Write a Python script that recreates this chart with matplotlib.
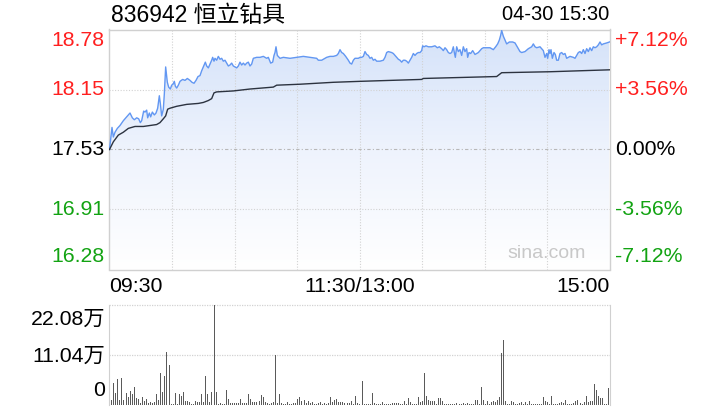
import numpy as np
import matplotlib.pyplot as plt
import matplotlib.transforms as mtransforms
from matplotlib.patches import Polygon
from matplotlib.colors import LinearSegmentedColormap

plt.rcParams['font.family'] = ['Liberation Sans', 'Noto Sans CJK SC', 'DejaVu Sans']

# stock info
title = '836942 恒立钻具'
stamp = '04-30 15:30'
prev_close = 17.53
price_ticks = [16.28, 16.91, 17.53, 18.15, 18.78]
pct_labels = ['-7.12%', '-3.56%', '0.00%', '+3.56%', '+7.12%']
time_labels = ['09:30', '11:30/13:00', '15:00']
vol_ticks = [0, 11.04, 22.08]
vol_labels = ['0', '11.04万', '22.08万']

# minute price (minutes since 09:30, trading time only)
price_t = [0, 1.2, 1.84, 2.64, 3.76, 5.04, 6.64, 8.24, 9.84, 10.96, 11.92, 13.04, 14.0, 14.8, 15.44,
           16.4, 17.04, 17.84, 18.32, 19.12, 19.76, 20.56, 21.52, 22.32, 23.12, 23.92, 24.4, 25.04,
           25.84, 26.32, 26.96, 27.76, 28.4, 29.2, 29.84, 30.48, 31.12, 31.6, 32.24, 33.04, 33.84,
           35.12, 36.24, 37.36, 38.64, 39.6, 40.56, 41.52, 42.48, 43.44, 44.24, 45.04, 46.0, 46.64,
           47.44, 48.24, 49.04, 49.52, 50.16, 50.64, 51.44, 52.24, 53.04, 53.84, 54.64, 55.44, 56.24,
           57.04, 57.84, 58.64, 59.44, 60.24, 61.04, 61.84, 62.64, 63.44, 64.24, 65.04, 65.84, 66.64,
           67.44, 68.24, 69.04, 70.64, 72.24, 73.84, 75.44, 76.24, 77.36, 78.32, 78.96, 79.44, 79.92,
           80.56, 81.84, 83.44, 86.64, 89.84, 93.04, 96.24, 99.44, 100.24, 101.04, 101.84, 102.64,
           104.24, 105.84, 107.44, 109.04, 109.84, 110.64, 111.44, 112.24, 113.36, 114.64, 115.44,
           116.24, 117.04, 117.84, 119.44, 120.24,
           121.04, 121.84, 122.64, 123.44, 124.24, 125.04, 125.84, 126.64, 127.44, 128.24, 129.84,
           131.44, 132.24, 133.04, 133.84, 135.44, 136.24, 137.04, 137.84, 138.64, 139.44, 140.24,
           141.04, 141.84, 142.64, 143.44, 144.24, 145.04, 145.84, 146.64, 147.44, 148.24, 149.04,
           149.84, 150.32, 150.96, 151.92, 153.04, 154.64, 156.24, 157.36, 158.32, 159.44, 160.24,
           161.04, 161.84, 162.64, 163.44, 164.24, 165.04, 165.52, 166.0, 166.64, 167.44, 168.24,
           169.04, 169.84, 170.64, 171.44, 171.92, 172.56, 173.36, 174.32, 175.44, 176.24, 177.04,
           177.84, 178.64, 179.44, 181.04, 182.64, 184.24, 185.36, 186.32, 187.12, 187.76, 188.24,
           189.04, 189.84, 190.64, 191.92, 193.52, 194.64, 195.44, 196.24, 197.04, 197.84, 199.44,
           201.04, 201.84, 202.64, 203.44, 204.24, 205.04, 206.64, 207.44, 208.24, 209.04, 209.84,
           210.32, 210.96, 211.44, 211.92, 212.56, 213.36, 214.0, 214.64, 215.44, 216.24, 217.04,
           217.84, 218.64, 219.44, 220.24, 221.04, 222.64, 223.44, 224.24, 225.04, 225.84, 226.64,
           227.44, 228.24, 229.04, 229.84, 230.64, 231.44, 232.24, 233.04, 233.84, 234.64, 235.44,
           236.24, 237.04, 238.64, 240]
price_v = [17.53, 17.76, 17.66, 17.71, 17.75, 17.78, 17.83, 17.87, 17.91, 17.86, 17.84, 17.86, 17.85,
           17.81, 17.83, 17.93, 17.92, 17.94, 17.86, 17.91, 17.87, 17.92, 17.89, 17.91, 17.96, 18.09,
           18.01, 17.88, 17.95, 18.11, 18.39, 18.23, 18.18, 18.16, 18.20, 18.21, 18.24, 18.19, 18.17,
           18.20, 18.24, 18.26, 18.25, 18.27, 18.25, 18.23, 18.22, 18.25, 18.29, 18.30, 18.35, 18.39,
           18.44, 18.40, 18.38, 18.42, 18.46, 18.49, 18.45, 18.48, 18.46, 18.50, 18.47, 18.48, 18.45,
           18.46, 18.43, 18.40, 18.41, 18.43, 18.40, 18.39, 18.38, 18.40, 18.44, 18.41, 18.43, 18.41,
           18.43, 18.44, 18.40, 18.42, 18.48, 18.49, 18.49, 18.50, 18.48, 18.49, 18.43, 18.44, 18.51,
           18.54, 18.60, 18.51, 18.48, 18.49, 18.48, 18.49, 18.50, 18.49, 18.48, 18.46, 18.46, 18.46,
           18.47, 18.49, 18.50, 18.50, 18.51, 18.53, 18.57, 18.54, 18.53, 18.50, 18.46, 18.43, 18.42,
           18.46, 18.48, 18.48, 18.49,
           18.49, 18.50, 18.55, 18.52, 18.51, 18.48, 18.49, 18.46, 18.47, 18.45, 18.45, 18.46, 18.49,
           18.54, 18.55, 18.54, 18.53, 18.51, 18.49, 18.47, 18.46, 18.44, 18.46, 18.46, 18.45, 18.43,
           18.46, 18.49, 18.53, 18.51, 18.53, 18.54, 18.54, 18.56, 18.61, 18.60, 18.61, 18.60, 18.60,
           18.61, 18.59, 18.60, 18.58, 18.56, 18.59, 18.57, 18.54, 18.53, 18.54, 18.60, 18.54, 18.49,
           18.60, 18.55, 18.57, 18.51, 18.60, 18.55, 18.58, 18.49, 18.54, 18.53, 18.56, 18.52, 18.53,
           18.54, 18.56, 18.58, 18.59, 18.59, 18.59, 18.57, 18.60, 18.63, 18.67, 18.72, 18.77, 18.71,
           18.67, 18.63, 18.65, 18.65, 18.64, 18.61, 18.58, 18.55, 18.54, 18.55, 18.58, 18.59, 18.60,
           18.63, 18.60, 18.59, 18.60, 18.58, 18.56, 18.49, 18.53, 18.48, 18.57, 18.53, 18.57, 18.48,
           18.54, 18.52, 18.46, 18.46, 18.53, 18.54, 18.52, 18.53, 18.48, 18.49, 18.50, 18.49, 18.48,
           18.51, 18.54, 18.55, 18.53, 18.57, 18.53, 18.58, 18.55, 18.59, 18.56, 18.60, 18.59, 18.60,
           18.62, 18.65, 18.62, 18.63, 18.64, 18.65]

# average price line
avg_t = [0, 1.84, 4.24, 6.64, 9.04, 12.24, 16.24, 22.64, 24.24, 25.84, 26.96, 27.92, 29.04, 32.24,
         37.04, 42.64, 45.04, 47.44, 49.04, 50.16, 51.44, 59.44, 67.44, 78.64, 80.24, 91.44, 107.44,
         120.24, 149.84, 150.64, 185.84, 188.24, 211.44, 240]
avg_v = [17.53, 17.61, 17.68, 17.71, 17.75, 17.77, 17.77, 17.79, 17.81, 17.85, 17.88, 17.95, 17.96,
         17.98, 18.00, 18.01, 18.02, 18.04, 18.06, 18.12, 18.13, 18.14, 18.16, 18.18, 18.20, 18.21,
         18.23, 18.24, 18.26, 18.27, 18.29, 18.33, 18.34, 18.36]

# volume in 万 shares, morning and afternoon sessions
vol_am = [1.10, 4.93, 2.72, 5.74, 1.10, 5.96, 1.10, 2.65, 1.84, 3.09, 2.43, 3.97, 1.47, 1.32, 0.37,
          1.77, 0.88, 1.32, 0.37, 0.74, 0.37, 0.59, 2.43, 1.10, 7.07, 2.94, 6.40, 11.63, 8.83, 0.22,
          0.22, 2.65, 0.22, 2.43, 1.99, 2.87, 0.88, 0.88, 0.59, 0.22, 0.22, 0.88, 0.74, 0.59, 2.43,
          0.59, 6.40, 2.43, 0.59, 2.87, 22.08, 2.87, 0.22, 0.37, 0.22, 0.15, 3.31, 1.32, 0.44, 0.37,
          0.37, 0.52, 0.37, 1.32, 0.37, 0.52, 0.37, 2.43, 1.32, 0.74, 0.66, 0.74, 0.88, 2.21, 1.77,
          0.59, 0.37, 0.29, 0.37, 0.59, 11.04, 0.37, 2.43, 0.37, 0.29, 0.22, 0.66, 0.22, 0.22, 0.37,
          0.44, 1.32, 1.77, 0.88, 1.03, 0.37, 0.81, 0.37, 0.59, 0.22, 0.15, 0.37, 0.59, 0.15, 0.37,
          0.29, 0.37, 1.77, 0.59, 1.10, 1.32, 0.59, 0.66, 0.59, 0.37, 0.37, 0.44, 0.88, 0.29, 1.99,
          0.37, 0.22]
vol_pm = [5.30, 0.15, 0.15, 0.15, 0.22, 2.65, 0.44, 0.15, 0.15, 0.15, 0.66, 0.29, 0.15, 0.22, 0.29,
          0.37, 0.44, 0.44, 0.44, 0.22, 0.29, 0.88, 0.22, 1.55, 0.66, 0.22, 0.22, 0.29, 1.77, 0.59,
          0.88, 7.07, 1.99, 1.10, 0.88, 0.88, 0.88, 0.22, 1.55, 1.55, 0.88, 0.15, 0.22, 0.22, 0.22,
          0.22, 0.22, 0.37, 0.22, 0.22, 0.37, 0.22, 0.44, 0.22, 0.22, 0.15, 1.10, 1.10, 0.22, 3.97,
          1.10, 0.22, 0.88, 0.22, 0.59, 0.88, 0.66, 1.10, 1.77, 11.48, 14.35, 0.88, 0.15, 0.22, 0.88,
          0.59, 0.15, 0.22, 0.44, 0.66, 0.22, 0.59, 0.15, 0.88, 0.22, 0.22, 0.22, 0.22, 0.15, 0.22,
          1.77, 0.88, 0.66, 0.22, 1.99, 0.15, 0.22, 0.22, 0.37, 0.66, 0.44, 1.10, 0.22, 0.22, 0.22,
          0.44, 0.88, 1.10, 0.44, 0.22, 0.59, 1.99, 0.59, 0.88, 0.88, 4.64, 3.31, 1.99, 1.55, 1.55,
          0.22, 0.22, 3.75]

RED = '#ff1f1f'
GREEN = '#12a312'
GRID = '#d2d2d2'
FS = 15.3
label_colors = [GREEN, GREEN, 'black', RED, RED]
label_shift = [13, 0, 0, 0, -11]   # pixels, keeps end labels inside the panel

fig = plt.figure(figsize=(7.2, 4.2), dpi=100)

# ---- price panel
ax = fig.add_axes([109.5 / 720, 1 - 269.5 / 420, 500 / 720, 240 / 420])
ax.set_xlim(0, 240)
ax.set_ylim(price_ticks[0], price_ticks[-1])

# gradient fill under the price line
cmap = LinearSegmentedColormap.from_list('fill', ['#ffffff', '#eef3fd', '#d4e2f9'])
grad = np.linspace(0, 1, 256).reshape(-1, 1)
img = ax.imshow(grad, cmap=cmap, origin='lower', aspect='auto', zorder=1,
                extent=[0, 240, price_ticks[0], price_ticks[-1]])
poly = Polygon(np.column_stack([[0] + price_t + [240], [price_ticks[0]] + price_v + [price_ticks[0]]]),
               closed=True, facecolor='none', edgecolor='none')
ax.add_patch(poly)
img.set_clip_path(poly)

for m in range(30, 240, 30):
    ax.axvline(m, color=GRID, lw=0.8, ls=(0, (1, 1.5)), zorder=2)
for p in [price_ticks[1], price_ticks[3]]:
    ax.axhline(p, color=GRID, lw=0.8, ls=(0, (1, 1.5)), zorder=2)
ax.axhline(prev_close, color='#b8b8b8', lw=0.8, ls=(0, (3, 2, 1, 2)), zorder=2)

ax.plot(price_t, price_v, color='#6297f2', lw=1.0, zorder=4)
ax.plot(avg_t, avg_v, color='#2c3340', lw=1.0, zorder=4)

ax.set_xticks([])
ax.set_yticks([])
for s in ax.spines.values():
    s.set_color('#d0d0d0')
    s.set_linewidth(1.0)

ytr = ax.get_yaxis_transform()
for p, c, dy, pct in zip(price_ticks, label_colors, label_shift, pct_labels):
    tr = mtransforms.offset_copy(ytr, fig=fig, x=0, y=dy, units='dots')
    ax.text(-0.01, p, f'{p:.2f}', color=c, fontsize=FS, ha='right', va='center', transform=tr)
    ax.text(1.011, p, pct, color=c, fontsize=FS, ha='left', va='center', transform=tr)

xtr = ax.get_xaxis_transform()
for xpos, lab, ha in zip([0, 120, 240], time_labels, ['left', 'center', 'right']):
    ax.text(xpos, -0.07, lab, fontsize=FS, ha=ha, va='center', transform=xtr)

ax.text(0.875, 0.065, 'sina.com', color='#c8c8c8', fontsize=14, ha='center', va='center',
        transform=ax.transAxes, zorder=5)

fig.text(111 / 720, 1 - 15 / 420, title, fontsize=16.5, ha='left', va='center')
fig.text(609 / 720, 1 - 15 / 420, stamp, fontsize=14.5, ha='right', va='center')

# ---- volume panel
vax = fig.add_axes([109.5 / 720, 15 / 420, 500 / 720, 100 / 420])
vax.set_xlim(0, 240)
vax.set_ylim(0, vol_ticks[-1])
x_am = np.linspace(1.06, 119.9, len(vol_am))
x_pm = np.linspace(121.3, 239.4, len(vol_pm))
vax.bar(x_am, vol_am, width=0.48, color='#5a5a5a', lw=0, antialiased=False, zorder=3)
vax.bar(x_pm, vol_pm, width=0.48, color='#5a5a5a', lw=0, antialiased=False, zorder=3)
for v in vol_ticks[1:]:
    vax.axhline(v, color=GRID, lw=0.9, ls=(0, (1, 1)), zorder=1, clip_on=False)
vax.set_xticks([])
vax.set_yticks([])
for side in ['top', 'bottom']:
    vax.spines[side].set_visible(False)
for side in ['left', 'right']:
    vax.spines[side].set_color('#d0d0d0')

for frac, lab in zip([0.14, 0.49, 0.86], vol_labels):
    vax.text(-0.009, frac, lab, fontsize=FS, ha='right', va='center', transform=vax.transAxes)

fig.savefig('out.png', dpi=100)
